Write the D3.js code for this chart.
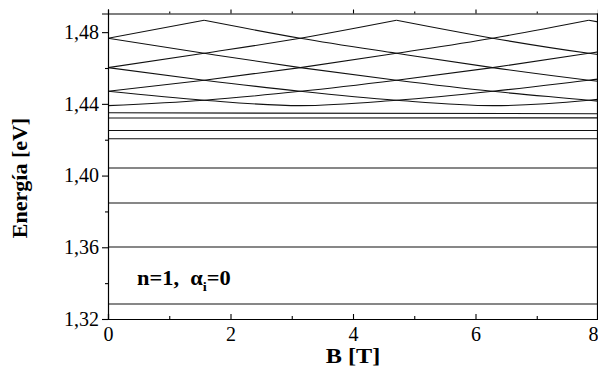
<!DOCTYPE html>
<html>
<head>
<meta charset="utf-8">
<script src="https://cdn.jsdelivr.net/npm/d3@7/dist/d3.min.js"></script>
<style>
  html, body { margin: 0; padding: 0; background: #fff; }
  svg { display: block; }
  text { font-family: "Liberation Serif", "Times New Roman", serif; fill: #000; }
</style>
</head>
<body>
<svg id="chart" width="598" height="375"></svg>
<script>
// ---- data ----
// magnetic field sample positions (T): integer / half-integer flux points
const bPoints = [0, 1.57, 3.14, 4.71, 6.28, 7.85, 8.0];

// crossing (ring-like) levels, energy in eV at each bPoints entry; null = not drawn
const ringLevels = [
  [1.4766, 1.4866, null,   null,   null,   null,   null  ],
  [1.4602, 1.4682, 1.4766, 1.4866, null,   null,   null  ],
  [1.4470, 1.4532, 1.4602, 1.4682, 1.4766, 1.4866, null  ],
  [1.4390, 1.4420, 1.4470, 1.4532, 1.4602, 1.4682, 1.4690],
  [1.4470, 1.4420, 1.4390, 1.4420, 1.4470, 1.4532, 1.4538],
  [1.4602, 1.4532, 1.4470, 1.4420, 1.4390, 1.4420, 1.4425],
  [1.4766, 1.4682, 1.4602, 1.4532, 1.4470, 1.4420, 1.4415],
  [null,   1.4866, 1.4766, 1.4682, 1.4602, 1.4532, 1.4526],
  [null,   null,   null,   1.4866, 1.4766, 1.4682, 1.4675],
  [null,   null,   null,   null,   null,   1.4866, 1.4857]
];

// nearly field-independent levels (eV) at B = 0 and B = 8
const flatStart = [1.4350, 1.4321, 1.4251, 1.4205, 1.4042, 1.3847, 1.3602, 1.3284];
const flatEnd   = [1.4345, 1.4322, 1.4251, 1.4205, 1.4042, 1.3847, 1.3602, 1.3284];

const xMajorTicks = [0, 2, 4, 6, 8];
const xMinorTicks = [1, 3, 5, 7];
const yMajorTicks = [1.32, 1.36, 1.40, 1.44, 1.48];
const yMinorTicks = [1.34, 1.38, 1.42, 1.46];

// ---- layout ----
const M = { left: 108, right: 598, top: 13.5, bottom: 319 };

const svg = d3.select("#chart");
const x = d3.scaleLinear().domain([0, 8]).range([M.left, M.right]);
const y = d3.scaleLinear().domain([1.32, 1.4904]).range([M.bottom, M.top]);

svg.append("defs").append("clipPath").attr("id", "plotclip")
  .append("rect").attr("x", M.left).attr("y", M.top)
  .attr("width", M.right - M.left).attr("height", M.bottom - M.top);

const plot = svg.append("g").attr("clip-path", "url(#plotclip)");

const line = d3.line()
  .x(d => x(d[0]))
  .y(d => y(d[1]))
  .curve(d3.curveMonotoneX);

ringLevels.forEach(series => {
  const pts = bPoints.map((b, i) => [b, series[i]]).filter(d => d[1] !== null);
  plot.append("path")
    .attr("d", line(pts))
    .attr("fill", "none")
    .attr("stroke", "#111")
    .attr("stroke-width", 1.1);
});

flatStart.forEach((e0, i) => {
  const pts = [[0, e0], [8, flatEnd[i]]];
  plot.append("path")
    .attr("d", d3.line().x(d => x(d[0])).y(d => y(d[1]))(pts))
    .attr("fill", "none")
    .attr("stroke", "#111")
    .attr("stroke-width", 1.1);
});

// ---- axes ----
const fmt = d => d.toFixed(2).replace(".", ",");

function styleAxis(g) {
  g.selectAll("path.domain").attr("stroke", "#000").attr("stroke-width", 1.2);
  g.selectAll(".tick line").attr("stroke", "#000").attr("stroke-width", 1.1);
  g.selectAll("text").attr("font-family", "Liberation Serif, serif").attr("font-size", 20);
}

// left
const gl = svg.append("g").attr("transform", `translate(${M.left},0)`)
  .call(d3.axisLeft(y).tickValues(yMajorTicks).tickSize(6).tickPadding(3).tickFormat(fmt));
styleAxis(gl);
const glm = svg.append("g").attr("transform", `translate(${M.left},0)`)
  .call(d3.axisLeft(y).tickValues(yMinorTicks).tickSize(3).tickFormat(""));
styleAxis(glm);
glm.select("path.domain").remove();

// bottom
const gb = svg.append("g").attr("transform", `translate(0,${M.bottom})`)
  .call(d3.axisBottom(x).tickValues(xMajorTicks).tickSize(-5).tickPadding(8).tickFormat(d3.format("d")));
styleAxis(gb);
// last label sits against the right edge
gb.selectAll(".tick text").filter(d => d === 8).attr("text-anchor", "end").attr("dx", 0);
const gbm = svg.append("g").attr("transform", `translate(0,${M.bottom})`)
  .call(d3.axisBottom(x).tickValues(xMinorTicks).tickSize(-3).tickFormat(""));
styleAxis(gbm);
gbm.select("path.domain").remove();

// top
const gt = svg.append("g").attr("transform", `translate(0,${M.top})`)
  .call(d3.axisTop(x).tickValues(xMajorTicks).tickSize(4).tickFormat(""));
styleAxis(gt);
const gtm = svg.append("g").attr("transform", `translate(0,${M.top})`)
  .call(d3.axisTop(x).tickValues(xMinorTicks).tickSize(2).tickFormat(""));
styleAxis(gtm);
gtm.select("path.domain").remove();

// right frame
svg.append("line").attr("x1", M.right - 0.5).attr("x2", M.right - 0.5)
  .attr("y1", M.top).attr("y2", M.bottom).attr("stroke", "#000").attr("stroke-width", 1.2);

// ---- titles ----
svg.append("text")
  .attr("transform", "translate(27,178) rotate(-90)")
  .attr("text-anchor", "middle")
  .attr("font-weight", "bold")
  .attr("font-size", 22)
  .text("Energía [eV]");

svg.append("text")
  .attr("transform", `translate(${x(4)},363) scale(1.1,1)`)
  .attr("text-anchor", "middle")
  .attr("font-weight", "bold")
  .attr("font-size", 22)
  .text("B [T]");

// annotation
const ann = svg.append("text")
  .attr("transform", "translate(137,285) scale(1.12,1)")
  .attr("font-weight", "bold")
  .attr("font-size", 20);
ann.append("tspan").text("n=1,\u00a0\u00a0\u03b1");
ann.append("tspan").attr("dy", 6).attr("font-size", 13).text("i");
ann.append("tspan").attr("dy", -6).text("=0");
</script>
</body>
</html>
